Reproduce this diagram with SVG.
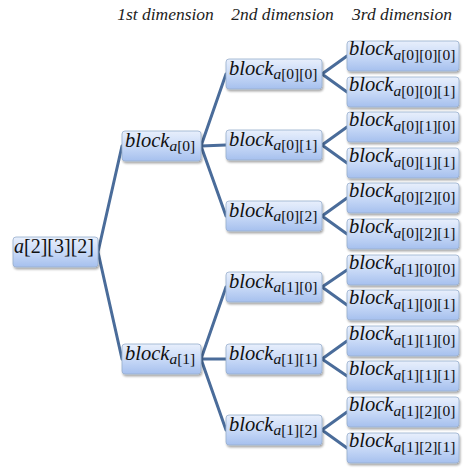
<svg xmlns="http://www.w3.org/2000/svg" width="474" height="474" viewBox="0 0 474 474">
<defs>
<linearGradient id="g" x1="0" y1="0" x2="0" y2="1">
<stop offset="0" stop-color="#e8effc"/>
<stop offset="0.5" stop-color="#c9daf7"/>
<stop offset="1" stop-color="#a6c0ee"/>
</linearGradient>
<filter id="sh" x="-10%" y="-20%" width="130%" height="160%">
<feDropShadow dx="1" dy="2" stdDeviation="1" flood-color="#000" flood-opacity="0.35"/>
</filter>
</defs>
<style>
rect.box{fill:url(#g);stroke:#98aecd;stroke-width:0.8;filter:url(#sh)}
text{font-family:"Liberation Serif","Times New Roman",serif;fill:#111}
.b{font-style:italic;font-size:20.5px}
.s{font-size:15.5px;font-style:normal}
.i{font-style:italic}
.h{font-style:italic;font-size:17.5px;fill:#222;text-anchor:middle}
.r{font-size:20px}
#connectors path{fill:none;stroke:#4a6c9a;stroke-width:3;stroke-linecap:round}
</style>
<rect width="474" height="474" fill="#fff"/>
<g id="headers">
<text class="h" x="165.5" y="20">1st dimension</text>
<text class="h" x="282.5" y="20">2nd dimension</text>
<text class="h" x="402" y="20">3rd dimension</text>
</g>
<g id="connectors">
<path d="M98,252L122,146M98,252L122,359"/>
<path d="M201,146L226,74M201,146L226,145M201,146L226,216"/>
<path d="M201,359L226,287M201,359L226,359M201,359L226,430"/>
<path d="M322,74L347,56M322,74L347,92"/>
<path d="M322,145L347,127M322,145L347,163"/>
<path d="M322,216L347,198M322,216L347,234"/>
<path d="M322,287L347,270M322,287L347,305"/>
<path d="M322,359L347,341M322,359L347,376"/>
<path d="M322,430L347,412M322,430L347,448"/>
</g>
<g id="root"><rect class="box" x="13" y="237" width="85" height="30" rx="3"/><text class="r" x="14" y="253"><tspan class="i">a</tspan>[2][3][2]</text></g>
<g id="n_a0"><rect class="box" x="122" y="131" width="79" height="30" rx="3"/><text x="125" y="147"><tspan class="b">block</tspan><tspan class="s" dy="4"><tspan class="i">a</tspan>[0]</tspan></text></g>
<g id="n_a1"><rect class="box" x="122" y="344" width="79" height="30" rx="3"/><text x="125" y="360"><tspan class="b">block</tspan><tspan class="s" dy="4"><tspan class="i">a</tspan>[1]</tspan></text></g>
<g id="n_a00"><rect class="box" x="226" y="59" width="96" height="30" rx="3"/><text x="229" y="75"><tspan class="b">block</tspan><tspan class="s" dy="4"><tspan class="i">a</tspan>[0][0]</tspan></text></g>
<g id="n_a01"><rect class="box" x="226" y="130" width="96" height="30" rx="3"/><text x="229" y="146"><tspan class="b">block</tspan><tspan class="s" dy="4"><tspan class="i">a</tspan>[0][1]</tspan></text></g>
<g id="n_a02"><rect class="box" x="226" y="201" width="96" height="30" rx="3"/><text x="229" y="217"><tspan class="b">block</tspan><tspan class="s" dy="4"><tspan class="i">a</tspan>[0][2]</tspan></text></g>
<g id="n_a10"><rect class="box" x="226" y="272" width="96" height="30" rx="3"/><text x="229" y="288"><tspan class="b">block</tspan><tspan class="s" dy="4"><tspan class="i">a</tspan>[1][0]</tspan></text></g>
<g id="n_a11"><rect class="box" x="226" y="344" width="96" height="30" rx="3"/><text x="229" y="360"><tspan class="b">block</tspan><tspan class="s" dy="4"><tspan class="i">a</tspan>[1][1]</tspan></text></g>
<g id="n_a12"><rect class="box" x="226" y="415" width="96" height="30" rx="3"/><text x="229" y="431"><tspan class="b">block</tspan><tspan class="s" dy="4"><tspan class="i">a</tspan>[1][2]</tspan></text></g>
<g id="n_a000"><rect class="box" x="347" y="41" width="112" height="30" rx="3"/><text x="349" y="55"><tspan class="b">block</tspan><tspan class="s" dy="5"><tspan class="i">a</tspan>[0][0][0]</tspan></text></g>
<g id="n_a001"><rect class="box" x="347" y="77" width="112" height="30" rx="3"/><text x="349" y="91"><tspan class="b">block</tspan><tspan class="s" dy="5"><tspan class="i">a</tspan>[0][0][1]</tspan></text></g>
<g id="n_a010"><rect class="box" x="347" y="112" width="112" height="30" rx="3"/><text x="349" y="126"><tspan class="b">block</tspan><tspan class="s" dy="5"><tspan class="i">a</tspan>[0][1][0]</tspan></text></g>
<g id="n_a011"><rect class="box" x="347" y="148" width="112" height="30" rx="3"/><text x="349" y="162"><tspan class="b">block</tspan><tspan class="s" dy="5"><tspan class="i">a</tspan>[0][1][1]</tspan></text></g>
<g id="n_a020"><rect class="box" x="347" y="183" width="112" height="30" rx="3"/><text x="349" y="197"><tspan class="b">block</tspan><tspan class="s" dy="5"><tspan class="i">a</tspan>[0][2][0]</tspan></text></g>
<g id="n_a021"><rect class="box" x="347" y="219" width="112" height="30" rx="3"/><text x="349" y="233"><tspan class="b">block</tspan><tspan class="s" dy="5"><tspan class="i">a</tspan>[0][2][1]</tspan></text></g>
<g id="n_a100"><rect class="box" x="347" y="255" width="112" height="30" rx="3"/><text x="349" y="269"><tspan class="b">block</tspan><tspan class="s" dy="5"><tspan class="i">a</tspan>[1][0][0]</tspan></text></g>
<g id="n_a101"><rect class="box" x="347" y="290" width="112" height="30" rx="3"/><text x="349" y="304"><tspan class="b">block</tspan><tspan class="s" dy="5"><tspan class="i">a</tspan>[1][0][1]</tspan></text></g>
<g id="n_a110"><rect class="box" x="347" y="326" width="112" height="30" rx="3"/><text x="349" y="340"><tspan class="b">block</tspan><tspan class="s" dy="5"><tspan class="i">a</tspan>[1][1][0]</tspan></text></g>
<g id="n_a111"><rect class="box" x="347" y="361" width="112" height="30" rx="3"/><text x="349" y="375"><tspan class="b">block</tspan><tspan class="s" dy="5"><tspan class="i">a</tspan>[1][1][1]</tspan></text></g>
<g id="n_a120"><rect class="box" x="347" y="397" width="112" height="30" rx="3"/><text x="349" y="411"><tspan class="b">block</tspan><tspan class="s" dy="5"><tspan class="i">a</tspan>[1][2][0]</tspan></text></g>
<g id="n_a121"><rect class="box" x="347" y="433" width="112" height="30" rx="3"/><text x="349" y="447"><tspan class="b">block</tspan><tspan class="s" dy="5"><tspan class="i">a</tspan>[1][2][1]</tspan></text></g>
</svg>
